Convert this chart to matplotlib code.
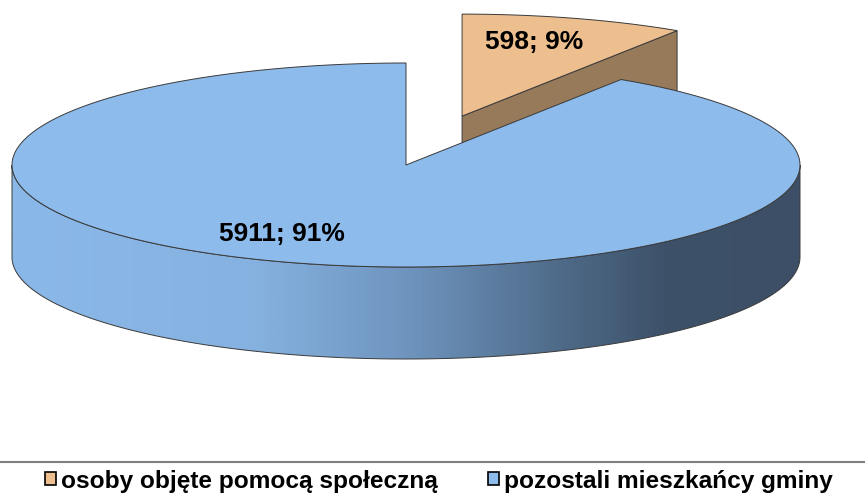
import numpy as np
import matplotlib
matplotlib.use("Agg")
import matplotlib.pyplot as plt
from matplotlib.patches import Polygon, Patch
from matplotlib.colors import LinearSegmentedColormap

# data
labels = ["osoby objęte pomocą społeczną", "pozostali mieszkańcy gminy"]
values = [598, 5911]
percents = ["9%", "91%"]

# colours
top_colors = ["#EDBE8E", "#8DBBEB"]
side_orange = "#967A5A"
edge_col = "#3a3a3a"

# pie geometry (pixels)
cx, cy = 406, 165
a, b = 394, 102
depth = 92
explode = 0.5

W, H = 865, 498
fig = plt.figure(figsize=(W / 100, H / 100), dpi=100)
ax = fig.add_axes([0, 0, 1, 1])
ax.set_xlim(0, W)
ax.set_ylim(H, 0)
ax.axis("off")


def pt(t_deg, ox=0.0, oy=0.0, dz=0.0):
    t = np.radians(t_deg)
    return cx + ox + a * np.cos(t), cy + oy - b * np.sin(t) + dz


def arc(t0, t1, ox=0.0, oy=0.0, dz=0.0, n=200):
    ts = np.linspace(t0, t1, n)
    return [pt(t, ox, oy, dz) for t in ts]


total = sum(values)
span_orange = 360.0 * values[0] / total
start = 90.0
end_orange = start - span_orange  # clockwise

# ---- exploded orange slice ----
mid = np.radians((start + end_orange) / 2)
ox = explode * a * np.cos(mid)
oy = -explode * b * np.sin(mid)

apex = (cx + ox, cy + oy)
corner = pt(end_orange, ox, oy)
side = [apex, corner, (corner[0], corner[1] + depth), (apex[0], apex[1] + depth)]
ax.add_patch(Polygon(side, closed=True, facecolor=side_orange,
                     edgecolor=edge_col, lw=0.7, zorder=1))
top_o = [apex] + arc(end_orange, start, ox, oy)
ax.add_patch(Polygon(top_o, closed=True, facecolor=top_colors[0],
                     edgecolor=edge_col, lw=0.7, zorder=2))

# ---- blue slice: front wall with gradient ----
wall = arc(180, 360) + arc(360, 180, dz=depth)
wall_patch = Polygon(wall, closed=True, facecolor="none",
                     edgecolor=edge_col, lw=0.7, zorder=4)
ax.add_patch(wall_patch)
grad = LinearSegmentedColormap.from_list("side", [
    (0.0, "#8AB8E8"), (0.3, "#86B2E1"), (0.5, "#6F95BF"),
    (0.7, "#4E6A88"), (0.83, "#3D5169"), (1.0, "#3C4F66")])
img = ax.imshow(np.linspace(0, 1, 400)[None, :], cmap=grad, aspect="auto",
                extent=[cx - a, cx + a, cy + b + depth + 2, cy - 2], zorder=3)
img.set_clip_path(wall_patch)

# blue top face
top_b = [(cx, cy)] + arc(start, end_orange + 360)
ax.add_patch(Polygon(top_b, closed=True, facecolor=top_colors[1],
                     edgecolor=edge_col, lw=0.7, zorder=5))

ax.set_xlim(0, W)
ax.set_ylim(H, 0)

# data labels
font = dict(family="Liberation Sans", weight="bold", size=19, color="black")
ax.text(534, 42, f"{values[0]}; {percents[0]}", ha="center", va="center", zorder=6, **font)
ax.text(282, 234, f"{values[1]}; {percents[1]}", ha="center", va="center", zorder=6, **font)

# separator line
ax.plot([0, W], [462, 462], color="#7f7f7f", lw=1.5, zorder=6)

# legend
handles = [Patch(facecolor=c, edgecolor="black", lw=1.2) for c in top_colors]
ax.legend(handles, labels, loc="center", bbox_to_anchor=(439, 481),
          bbox_transform=ax.transData, ncol=2, frameon=False,
          prop=dict(family="Liberation Sans", weight="bold", size=17.6),
          handlelength=0.45, handleheight=0.45, handletextpad=0.2,
          columnspacing=2.05, borderpad=0, borderaxespad=0)

fig.savefig("out.png", dpi=100)
